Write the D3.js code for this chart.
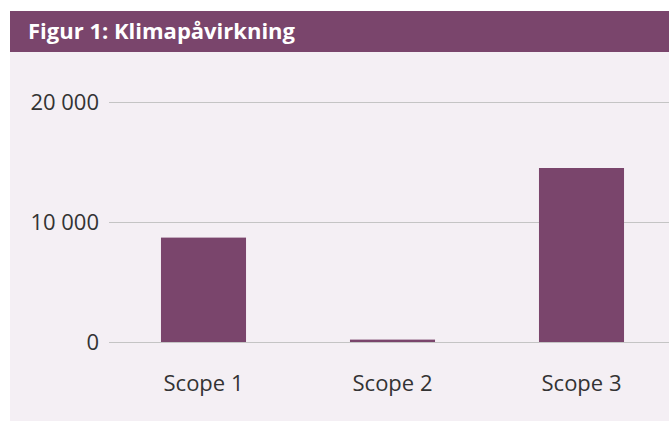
<!DOCTYPE html>
<html>
<head>
<meta charset="utf-8">
<script src="https://cdn.jsdelivr.net/npm/d3@7"></script>
<style>
  body { margin: 0; background: #ffffff; }
  text { font-family: "Open Sans", sans-serif; }
</style>
</head>
<body>
<div id="plot"></div>
<script>
var svgWidth = 669;
var svgHeight = 421;

// data
var categories = ["Scope 1", "Scope 2", "Scope 3"];
var values = [8700, 200, 14500];
var yTicks = [0, 10000, 20000];
var title = "Figur 1: Klimapåvirkning";

var purple = "#7a456c";

var svg = d3.select("#plot")
  .append("svg")
  .attr("width", svgWidth)
  .attr("height", svgHeight);

// panel + header band
svg.append("rect")
  .attr("x", 10).attr("y", 11)
  .attr("width", svgWidth - 10).attr("height", svgHeight - 11)
  .attr("fill", "#f4eff4");

svg.append("rect")
  .attr("x", 10).attr("y", 11)
  .attr("width", svgWidth - 10).attr("height", 41)
  .attr("fill", purple);

svg.append("text")
  .attr("x", 28)
  .attr("y", 39)
  .attr("fill", "#ffffff")
  .attr("font-size", "22px")
  .attr("font-weight", "bold")
  .text(title);

var xScale = d3.scaleBand()
  .domain(categories)
  .range([109, 676])
  .paddingInner(0.55)
  .paddingOuter(0.275);

var yScale = d3.scaleLinear()
  .domain([0, 20000])
  .range([342, 102]);

var fmt = function(d) { return d3.format(",")(d).replace(/,/g, " "); };

// y gridlines with labels
var yAxis = svg.append("g")
  .attr("transform", "translate(109,0)")
  .call(d3.axisLeft(yScale).tickValues(yTicks).tickSize(0).tickPadding(10).tickFormat(fmt));
yAxis.select(".domain").remove();
yAxis.selectAll("text")
  .attr("fill", "#333333")
  .attr("font-size", "22px")
  .attr("font-family", "Open Sans, sans-serif");

svg.append("g")
  .selectAll("line")
  .data(yTicks)
  .enter()
  .append("line")
  .attr("x1", 109)
  .attr("x2", svgWidth)
  .attr("y1", d => yScale(d) + 0.5)
  .attr("y2", d => yScale(d) + 0.5)
  .attr("stroke", "#c4c4c4")
  .attr("stroke-width", 1);

svg.append("g")
  .selectAll("rect")
  .data(values)
  .enter()
  .append("rect")
  .attr("x", (d, i) => xScale(categories[i]))
  .attr("y", d => yScale(d))
  .attr("width", xScale.bandwidth())
  .attr("height", d => yScale(0) - yScale(d))
  .attr("fill", purple);

var xAxis = svg.append("g")
  .attr("transform", "translate(0,342)")
  .call(d3.axisBottom(xScale).tickSize(0).tickPadding(33));
xAxis.select(".domain").remove();
xAxis.selectAll("text")
  .attr("fill", "#333333")
  .attr("font-size", "22px")
  .attr("font-family", "Open Sans, sans-serif");
</script>
</body>
</html>
